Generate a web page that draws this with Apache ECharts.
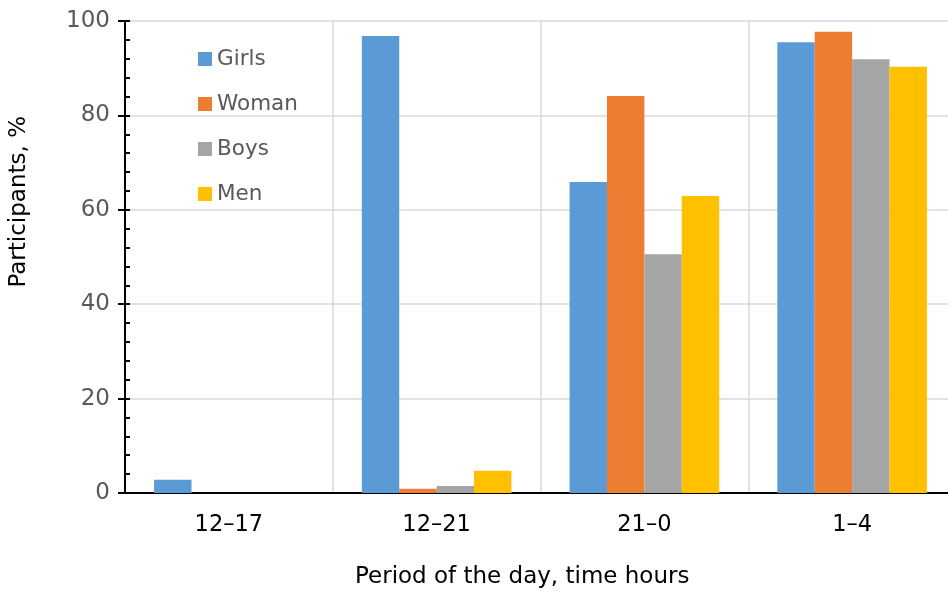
<!DOCTYPE html>
<html><head><meta charset="utf-8">
<script src="https://cdn.jsdelivr.net/npm/echarts@6/dist/echarts.min.js"></script>
<style>html,body{margin:0;padding:0;background:#fff}#c{width:948px;height:595px}</style>
</head><body><div id="c"></div>
<script>
const categories = ['12\u201317', '12\u201321', '21\u20130', '1\u20134'];
const girls = [2.8, 96.8, 65.9, 95.5];
const woman = [0, 0.9, 84.1, 97.7];
const boys  = [0, 1.5, 50.6, 91.9];
const men   = [0, 4.7, 62.9, 90.3];
const seriesNames = ['Girls', 'Woman', 'Boys', 'Men'];
const colors = ['#5b9bd5', '#ed7d31', '#a5a5a5', '#ffc000'];
const yTicks = [0, 20, 40, 60, 80, 100];

const FONT = '"DejaVu Sans"';
const chart = echarts.init(document.getElementById('c'));
const values = [girls, woman, boys, men];
chart.setOption({
  animation: false,
  textStyle: { fontFamily: FONT },
  grid: { left: 125, top: 21, width: 831, height: 472, containLabel: false, outerBoundsMode: 'none' },
  legend: {
    orient: 'vertical', left: 193, top: 43, itemGap: 23,
    itemWidth: 14, itemHeight: 14, icon: 'rect',
    textStyle: { fontFamily: FONT, fontSize: 21.5, color: '#595959' },
    data: seriesNames
  },
  xAxis: {
    type: 'category', data: categories,
    axisLine: { lineStyle: { color: '#000', width: 2 } },
    axisTick: { show: false },
    axisLabel: { color: '#000', fontSize: 22.5, margin: 21, fontFamily: FONT },
    splitLine: { show: true, lineStyle: { color: '#d9d9d9', width: 1.5 } }
  },
  yAxis: [{
    type: 'value', min: 0, max: 100, interval: 20,
    axisLine: { show: true, lineStyle: { color: '#000', width: 2 } },
    axisTick: { show: true, length: 7, lineStyle: { color: '#000', width: 2 } },
    axisLabel: { color: '#595959', fontSize: 23, margin: 15, fontFamily: FONT,
      formatter: v => yTicks.includes(v) ? String(v) : '' },
    splitLine: { show: true, lineStyle: { color: '#d9d9d9', width: 1.5 } }
  }, {
    type: 'value', min: 0, max: 100, interval: 4, position: 'left',
    axisLine: { show: false },
    axisTick: { show: true, inside: true, length: 5, lineStyle: { color: '#000', width: 2 } },
    axisLabel: { show: false },
    splitLine: { show: false }
  }],
  series: seriesNames.map((n, i) => ({
    name: n, type: 'bar', data: values[i], yAxisIndex: 0,
    barGap: '0%', barCategoryGap: '28%',
    itemStyle: { color: colors[i] }
  })),
  graphic: [{
    type: 'text', left: 8, top: 116, rotation: Math.PI / 2,
    style: { text: 'Participants, %', font: '23px ' + FONT, fill: '#000' }
  }, {
    type: 'text', left: 355, top: 566,
    style: { text: 'Period of the day, time hours', font: '23px ' + FONT, fill: '#000' }
  }]
});
</script></body></html>
